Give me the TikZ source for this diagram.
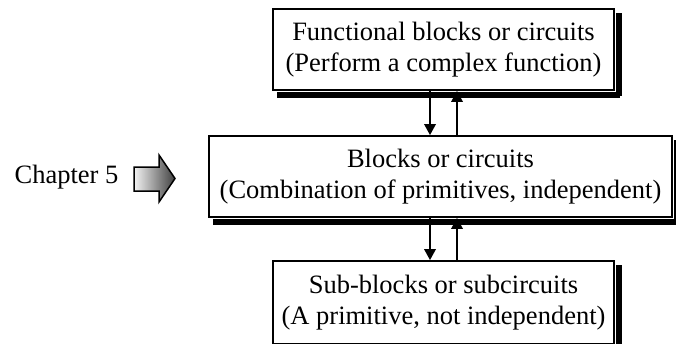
\documentclass[tikz,border=0pt]{standalone}
\usepackage{fontspec}
\setmainfont{Liberation Serif}
\usetikzlibrary{arrows.meta}
\begin{document}
\begin{tikzpicture}[x=1pt,y=-1pt,
  blk/.style={draw=black, line width=1.8pt, fill=white, rectangle, inner sep=0pt,
    align=center, font=\fontsize{26.5}{31}\selectfont},
  conn/.style={line width=1.8pt, -{Triangle[length=11pt,width=11.5pt]}},
  shadowbox/.style={fill=black, draw=none},
  lbl/.style={font=\fontsize{26.5}{31}\selectfont, inner sep=0pt}]
\useasboundingbox (0,0) rectangle (676,343);
\node[blk, minimum width=341pt, minimum height=81pt] (top) at (443.5,49.5)
  {Functional blocks or circuits\\(Perform a complex function)};
\node[blk, minimum width=463pt, minimum height=81pt] (mid) at (440.5,176.5)
  {Blocks or circuits\\(Combination of primitives, independent)};
\node[blk, minimum width=341pt, minimum height=83pt] (bot) at (443.5,302.5)
  {Sub-blocks or subcircuits\\(A primitive, not independent)};
\fill[shadowbox] (top.south west) ++(5,1) rectangle ++(343,6);
\fill[shadowbox] (top.north east) ++(1,5) rectangle ++(6,83);
\fill[shadowbox] (mid.south west) ++(5,1) rectangle ++(465,6);
\fill[shadowbox] (mid.north east) ++(1,5) rectangle ++(6,83);
\fill[shadowbox] (bot.north east) ++(1,5) rectangle ++(6,85);
\coordinate (dn) at (430,0);
\coordinate (up) at (457,0);
\draw[conn] (top.south -| dn) -- (mid.north -| dn);
\draw[conn] (mid.north -| up) -- (top.south -| up);
\draw[conn] (mid.south -| dn) -- (bot.north -| dn);
\draw[conn] (bot.north -| up) -- (mid.south -| up);
\node[lbl] (ch) at (66.5,177) {Chapter 5};
\shade[left color=gray!10, right color=black!75, draw=black, line width=1.5pt]
  (134,167) -- (159,167) -- (159,155) -- (175,178.5) -- (159,202) -- (159,191) -- (134,191) -- cycle;
\end{tikzpicture}
\end{document}
